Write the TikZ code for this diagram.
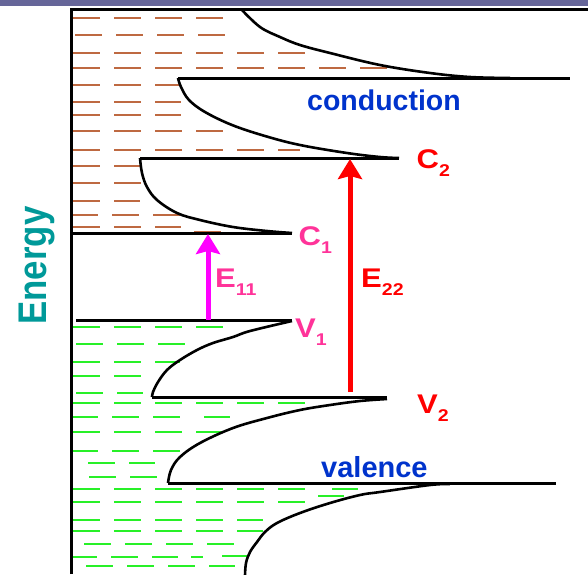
\documentclass[tikz,border=0pt]{standalone}
\usepackage{fontspec}
\setmainfont{Liberation Sans}
\usetikzlibrary{arrows.meta}
\definecolor{barpurple}{RGB}{102,102,153}
\definecolor{condbrown}{RGB}{190,105,65}
\definecolor{valgreen}{RGB}{40,240,40}
\definecolor{bandblue}{RGB}{0,51,204}
\definecolor{hotpink}{RGB}{255,51,153}
\definecolor{arrowmag}{RGB}{255,0,255}
\definecolor{arrowred}{RGB}{255,0,0}
\definecolor{energyteal}{RGB}{0,153,153}

\newcommand{\bandlbl}[2]{\scalebox{1.15}[1]{\fontsize{27}{27}\selectfont #1\raisebox{-8pt}{\fontsize{17}{17}\selectfont #2}}}

\begin{document}
\begin{tikzpicture}[
        x=1pt, y=-1pt,
        font=\bfseries,
        edge/.style={line width=3pt, black},
        dos/.style={line width=2.6pt, black, smooth, tension=0.6},
        cdash/.style={line width=2pt, condbrown, dash pattern=on 27pt off 14pt},
        vdash/.style={line width=2pt, valgreen, dash pattern=on 27pt off 14pt},
        lbl/.style={inner sep=0pt, anchor=base west},
        trans/.style={line width=5pt, -{Stealth[length=20pt, width=24pt, inset=3pt]}},
    ]
    \useasboundingbox (0,0) rectangle (588,574);
    \fill[barpurple] (0,0) rectangle (588,5.5);

    % filled states
    \foreach \y/\xa/\xb in {18/73/226, 35/75/227, 53/73/305, 68/73/387, 85/73/180,
            102/73/181, 115/73/181, 131/73/224, 150/73/300, 166/73/142, 183/73/143,
            201/73/140, 215/71/180, 227/73/181, 232/194/222}
        \draw[cdash] (\xa,\y) -- (\xb,\y);
    \foreach \y/\xa/\xb in {327/73/225, 344/76/186, 362/73/180, 376/73/142, 393/76/143,
            403/73/305, 417/71/180, 417/204/230, 432/73/223, 451/71/180, 463/88/155,
            477/89/157, 489/73/305, 489/332/358, 496/318/344, 502/73/305, 520/73/263,
            531/73/263, 544/84/235, 557/70/178, 557/191/203, 556/222/250, 566/86/235}
        \draw[vdash] (\xa,\y) -- (\xb,\y);

    % axes
    \draw[edge] (71.5,574) -- (71.5,9) -- (588,9);

    % conduction band
    \draw[dos] plot coordinates {(241,9) (260,27) (280,37) (300,45) (330,53) (380,65)
            (430,73) (470,77) (510,78)};
    \draw[edge] (178,78) -- (570,78);
    \draw[dos] plot coordinates {(178,78) (181,87) (189,100) (205,112) (232,125)
            (265,136) (300,145) (347,153) (380,157) (399,158)};
    \draw[edge] (140,158) -- (399,158);
    \draw[dos] plot coordinates {(140,158) (142,173) (147,187) (157,200) (177,213)
            (200,220) (233,227) (267,231) (292,233)};
    \draw[edge] (71,233) -- (292,233);

    % valence band
    \draw[edge] (76,320) -- (292,320);
    \draw[dos] plot coordinates {(292,321) (250,331) (233,337) (213,343) (197,350)
            (180,360) (167,370) (158,382) (153,392) (152,397)};
    \draw[edge] (152,397) -- (387,397);
    \draw[dos] plot coordinates {(387,399) (360,401) (330,405) (300,410) (267,418)
            (233,428) (200,443) (180,457) (171,470) (168,483)};
    \draw[edge] (168,483) -- (556,483);
    \draw[dos] plot coordinates {(450,484) (430,485) (380,492) (360,495) (330,503)
            (300,513) (277,523) (265,532) (257,542) (250,552) (246,563) (245,576)};

    % transitions
    \coordinate (v1) at (208,320);
    \coordinate (c1) at (208,234);
    \coordinate (v2) at (350,392);
    \coordinate (c2) at (350,159);
    \draw[trans, arrowmag] (v1) -- (c1);
    \draw[trans, arrowred] (v2) -- (c2);

    % labels
    \node[lbl, text=bandblue, font=\bfseries\fontsize{28.5}{28.5}\selectfont] (cond) at (307,110) {conduction};
    \node[lbl, text=bandblue, font=\bfseries\fontsize{29}{29}\selectfont] (val) at (321,477) {valence};
    \node[lbl, text=hotpink] (lc1) at (298.5,245) {\bandlbl{C}{1}};
    \node[lbl, text=hotpink] (le11) at (215,287) {\bandlbl{E}{11}};
    \node[lbl, text=hotpink] (lv1) at (295,337) {\bandlbl{V}{1}};
    \node[lbl, text=arrowred] (lc2) at (416.5,168) {\bandlbl{C}{2}};
    \node[lbl, text=arrowred] (le22) at (361,287) {\bandlbl{E}{22}};
    \node[lbl, text=arrowred] (lv2) at (417,413) {\bandlbl{V}{2}};
    \node[inner sep=0pt, anchor=base, rotate=90, text=energyteal,
        font=\bfseries\fontsize{40}{40}\selectfont] (energy) at (46.5,265.5) {\scalebox{0.87}[1]{Energy}};
\end{tikzpicture}
\end{document}
